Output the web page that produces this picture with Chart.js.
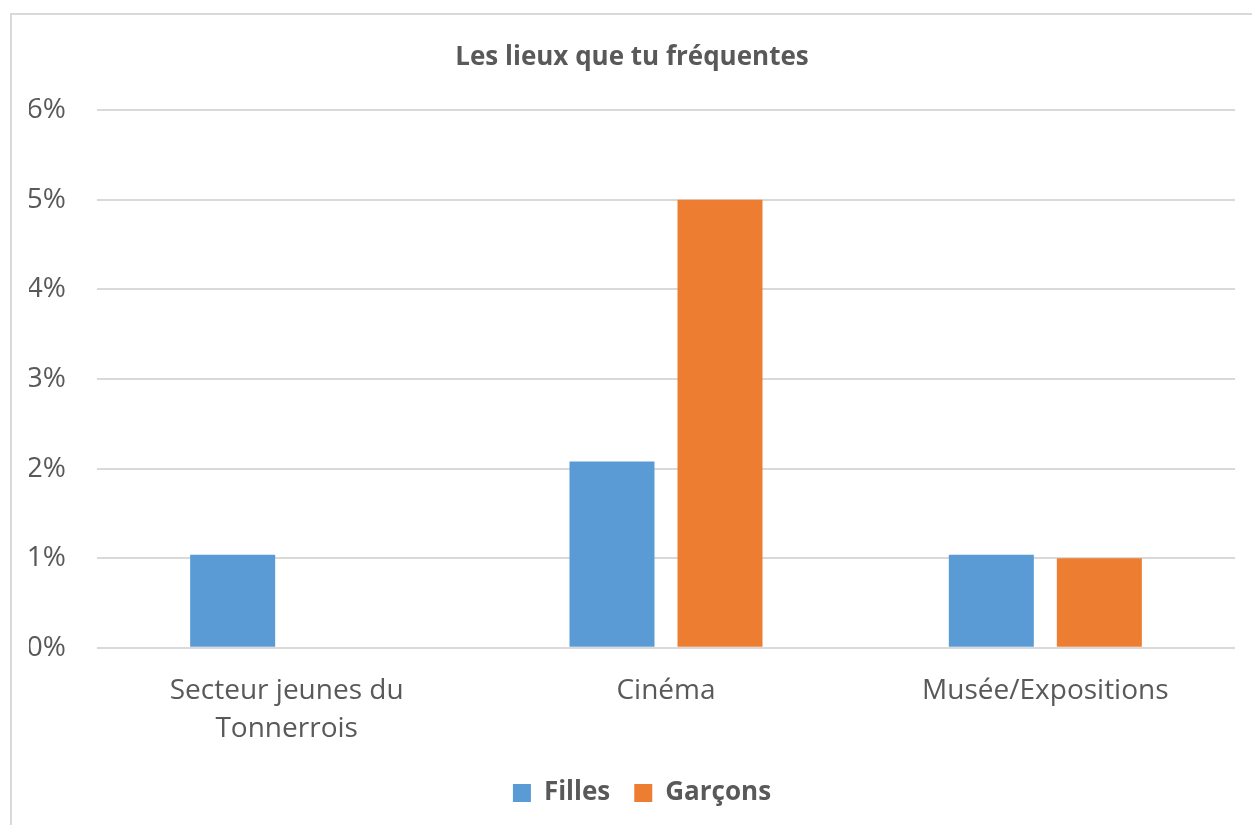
<!DOCTYPE html>
<html>
<head>
<meta charset="utf-8">
<script src="https://cdn.jsdelivr.net/npm/chart.js@4"></script>
<style>
  html, body { margin: 0; padding: 0; background: #fff; }
  #wrap { position: relative; width: 1252px; height: 825px; overflow: hidden; }
  #frame { position: absolute; left: 10px; top: 13px; width: 1400px; height: 1000px; border: 2px solid #d9d9d9; box-sizing: border-box; }
  canvas { position: absolute; left: 0; top: 0; }
</style>
</head>
<body>
<div id="wrap">
  <div id="frame"></div>
  <canvas id="c" width="1252" height="825"></canvas>
</div>
<script>
const categories = [["Secteur jeunes du", "Tonnerrois"], "Cinéma", "Musée/Expositions"];
const filles = [1.04, 2.08, 1.04];
const garcons = [0, 5.0, 1.0];
const yTicks = [0, 1, 2, 3, 4, 5, 6];
const seriesNames = ["Filles", "Garçons"];
const title = "Les lieux que tu fréquentes";

const textColor = "#595959";
const fontFamily = "'Open Sans', 'Noto Sans', sans-serif";

const shiftLegend = {
  id: "shiftLegend",
  afterLayout(chart) {
    if (chart.legend) {
      chart.legend.left += 10;
      chart.legend.right += 10;
    }
  }
};

new Chart(document.getElementById("c"), {
  type: "bar",
  data: {
    labels: categories,
    datasets: [
      { label: seriesNames[0], data: filles, backgroundColor: "#5B9BD5", categoryPercentage: 0.5695, barPercentage: 0.787 },
      { label: seriesNames[1], data: garcons, backgroundColor: "#ED7D31", categoryPercentage: 0.5695, barPercentage: 0.787 }
    ]
  },
  plugins: [shiftLegend],
  options: {
    responsive: false,
    animation: false,
    devicePixelRatio: 1,
    layout: { padding: { left: 29, right: 17, top: 0, bottom: 9 } },
    plugins: {
      title: {
        display: true,
        text: title,
        color: textColor,
        font: { family: fontFamily, size: 26, weight: "bold" },
        padding: { top: 42, bottom: 37 }
      },
      legend: {
        position: "bottom",
        labels: {
          color: textColor,
          font: { family: fontFamily, size: 26, weight: "bold" },
          boxWidth: 18,
          boxHeight: 18,
          padding: 24
        }
      },
      tooltip: { enabled: false }
    },
    scales: {
      x: {
        grid: { display: false, drawTicks: false },
        border: { display: false },
        ticks: {
          color: textColor,
          font: { family: fontFamily, size: 28, lineHeight: 1.36 },
          padding: 24,
          maxRotation: 0
        },
        afterFit: (scale) => {
          scale.paddingLeft = 0;
          scale.paddingRight = 0;
          scale.height -= 16;
        }
      },
      y: {
        min: 0,
        max: 6,
        afterBuildTicks: (axis) => { axis.ticks = yTicks.map(v => ({ value: v })); },
        afterFit: (scale) => { scale.width = 68; },
        grid: { color: "#d9d9d9", lineWidth: 2, drawTicks: false },
        border: { display: false },
        ticks: {
          color: textColor,
          font: { family: fontFamily, size: 28 },
          padding: 31,
          callback: (v) => v + "%"
        }
      }
    }
  }
});
</script>
</body>
</html>
